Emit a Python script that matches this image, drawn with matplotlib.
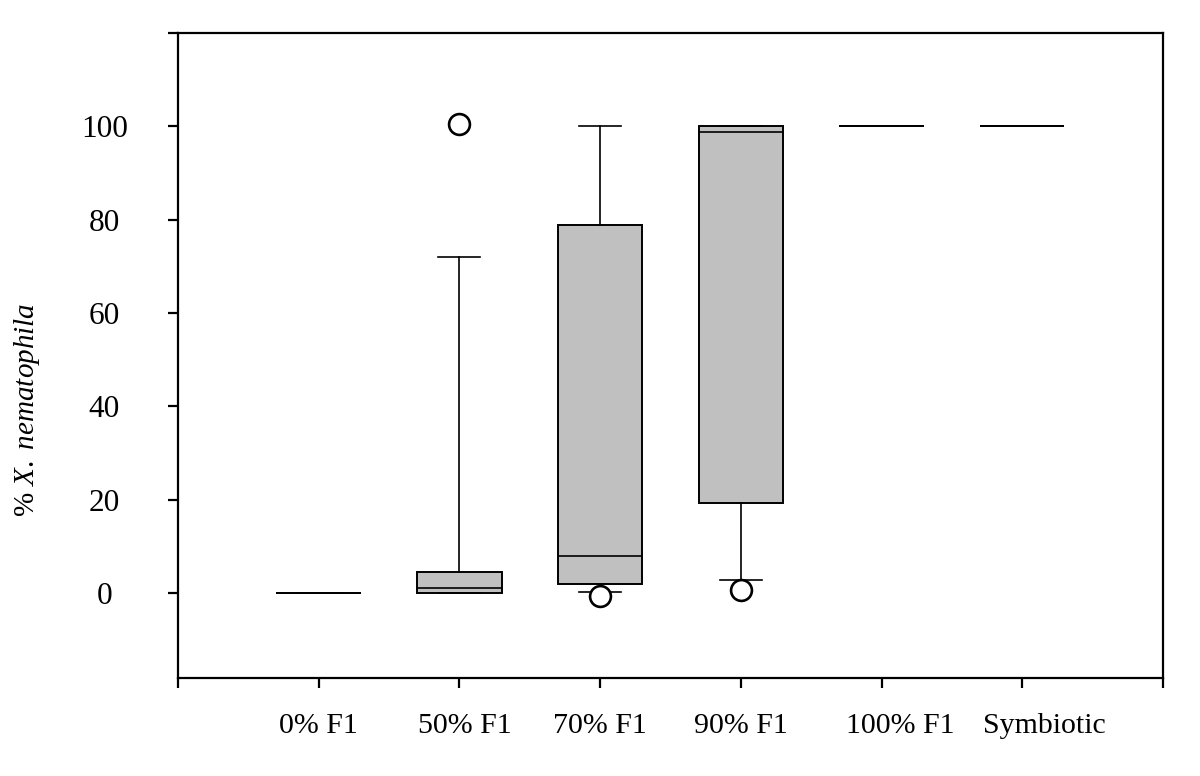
import matplotlib
matplotlib.use("Agg")
import matplotlib.pyplot as plt
import matplotlib.transforms as mtransforms

# ---- data ----
categorias = ["0% F1", "50% F1", "70% F1", "90% F1", "100% F1", "Symbiotic"]
bigote_inf = [0, 0, 0.2, 2.8, 100, 100]
q1 = [0, 0, 1.9, 19.3, 100, 100]
mediana = [0, 1.1, 7.9, 98.7, 100, 100]
q3 = [0, 4.5, 78.8, 100, 100, 100]
bigote_sup = [0, 72, 100, 100, 100, 100]
atipicos = [[], [100.5], [-0.6], [0.6], [], []]
yticks = [0, 20, 40, 60, 80, 100, 120]
yticklabels = ["0", "20", "40", "60", "80", "100", ""]

plt.rcParams["font.family"] = ["Liberation Serif", "DejaVu Serif"]
plt.rcParams["mathtext.fontset"] = "custom"
plt.rcParams["mathtext.rm"] = "Liberation Serif"
plt.rcParams["mathtext.it"] = "Liberation Serif:italic"

fig = plt.figure(figsize=(12, 7.76), dpi=100)
ax = fig.add_axes([0.1483, 0.1263, 0.8208, 0.8312])

stats = []
for i in range(len(categorias)):
    stats.append({
        "whislo": bigote_inf[i], "q1": q1[i], "med": mediana[i],
        "q3": q3[i], "whishi": bigote_sup[i], "fliers": atipicos[i],
    })

ax.bxp(stats, positions=range(1, len(categorias) + 1), widths=0.6,
       patch_artist=True, showfliers=True,
       boxprops=dict(facecolor="#c0c0c0", edgecolor="black", linewidth=1.4),
       medianprops=dict(color="black", linewidth=1.2),
       whiskerprops=dict(color="black", linewidth=1.2),
       capprops=dict(color="black", linewidth=1.2),
       capwidths=0.3,
       flierprops=dict(marker="o", markersize=15, markerfacecolor="white",
                       markeredgecolor="black", markeredgewidth=1.9))

ax.set_xlim(0, 7)
ax.set_ylim(-18.2, 120)

ax.set_yticks(yticks)
ax.set_yticklabels(yticklabels, fontsize=22.5, ha="center")
ax.set_xticks(range(0, 8))
ax.set_xticklabels([""] * 8)
ax.tick_params(direction="out", length=7, width=1.6)
ax.tick_params(axis="y", pad=46)

# etiquetas del eje x (algunas algo desplazadas como en el original)
desplaz = [0, 0.04, 0, 0, 0.13, 0.16]
trans = mtransforms.blended_transform_factory(ax.transData, ax.transAxes)
for i, nombre in enumerate(categorias):
    ax.text(i + 1 + desplaz[i], -0.075, nombre, transform=trans,
            ha="center", va="center", fontsize=21.5)

for s in ax.spines.values():
    s.set_linewidth(1.6)

ax.set_ylabel(r"% $X.\ nematophila$", fontsize=21)
ax.yaxis.set_label_coords(-0.138, 0.415)

fig.savefig("out.png", dpi=100)
